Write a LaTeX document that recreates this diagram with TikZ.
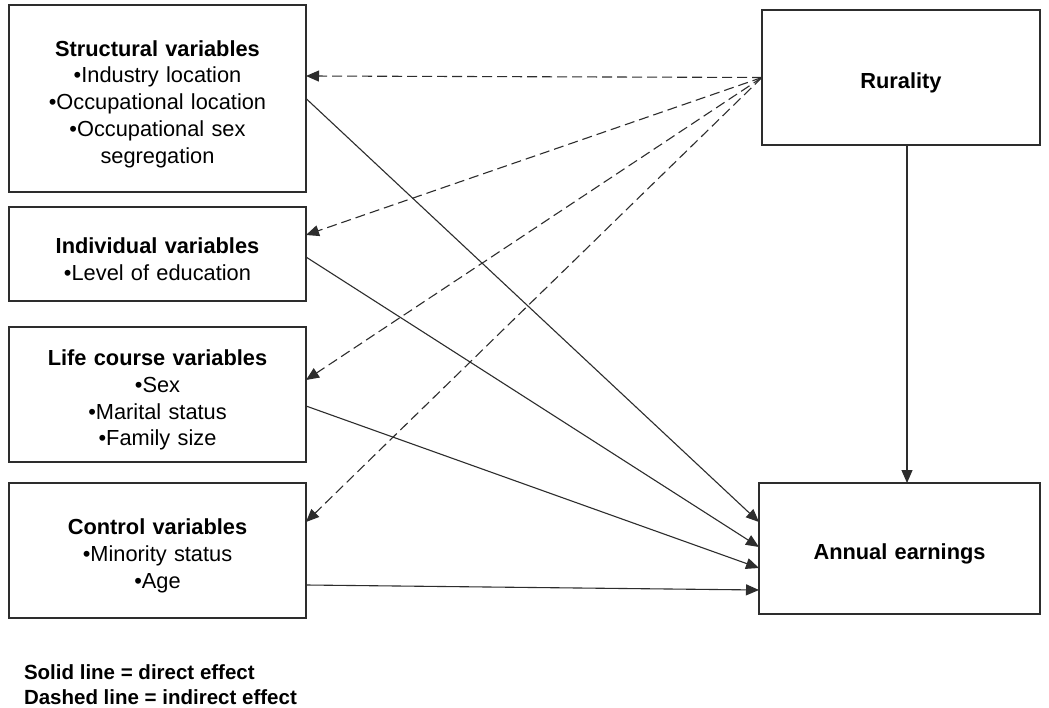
\documentclass[tikz,border=0pt]{standalone}
\usepackage{fontspec}
\setmainfont{Liberation Sans}
\usetikzlibrary{positioning}
\usetikzlibrary{arrows.meta}
\definecolor{linegray}{RGB}{45,45,45}

\begin{document}
\begin{tikzpicture}[x=1pt,y=-1pt,>={Triangle[length=13pt,width=11pt]},
    every node/.style={inner sep=1,outer sep=0,font=\fontsize{21.8}{26.8}\selectfont},
    varbox/.style={draw=linegray,line width=1.4pt,minimum width=297pt,text width=290pt,align=center,
        execute at begin node={\rule{0pt}{27pt}}},
    outbox/.style={varbox,minimum width=278pt,text width=270pt},
    direct/.style={->,line width=1.1pt,color=linegray},
    indirect/.style={->,line width=1.1pt,color=linegray,dash pattern=on 10pt off 5pt}]
	\useasboundingbox[fill=white] (0,0) rectangle (1049,708);
	\node (struct) [varbox,minimum height=187pt] at (157.5,98.5) {\textbf{Structural variables}\\•Industry location\\•Occupational location\\•Occupational sex\\segregation};
	\node (indiv) [varbox,minimum height=94pt] at (157.5,254) {\textbf{Individual variables}\\•Level of education};
	\node (life) [varbox,minimum height=135pt] at (157.5,394.5) {\textbf{Life course variables}\\•Sex\\•Marital status\\•Family size};
	\node (control) [varbox,minimum height=135pt] at (157.5,550.5) {\textbf{Control variables}\\•Minority status\\•Age};
	\node (rural) [outbox,minimum height=135pt] at (901,77.5) {\textbf{Rurality}};
	\node (earn) [outbox,minimum width=281pt,minimum height=131pt] at (899.5,548.5) {\textbf{Annual earnings}};
	\node (legend) [anchor=north west,align=left,font=\fontsize{20.5}{25}\selectfont\bfseries] at (23,664) {Solid line = direct effect\\Dashed line = indirect effect};
	\coordinate (drop) at ([xshift=6pt]rural.south);
    \path[indirect]
        (rural.west) edge ([yshift=22.5pt]struct.east)
        (rural.west) edge ([yshift=19pt]indiv.east)
        (rural.west) edge ([yshift=14.5pt]life.east)
        (rural.west) edge ([yshift=28.5pt]control.east);
    \path[direct]
        (struct.east) edge ([yshift=26.5pt]earn.west)
        ([yshift=-3pt]indiv.east) edge ([yshift=1.5pt]earn.west)
        ([yshift=-11.5pt]life.east) edge ([yshift=-19.5pt]earn.west)
        ([yshift=-34.5pt]control.east) edge ([yshift=-41.5pt]earn.west)
        (drop) edge (drop |- earn.north);
\end{tikzpicture}
\end{document}
